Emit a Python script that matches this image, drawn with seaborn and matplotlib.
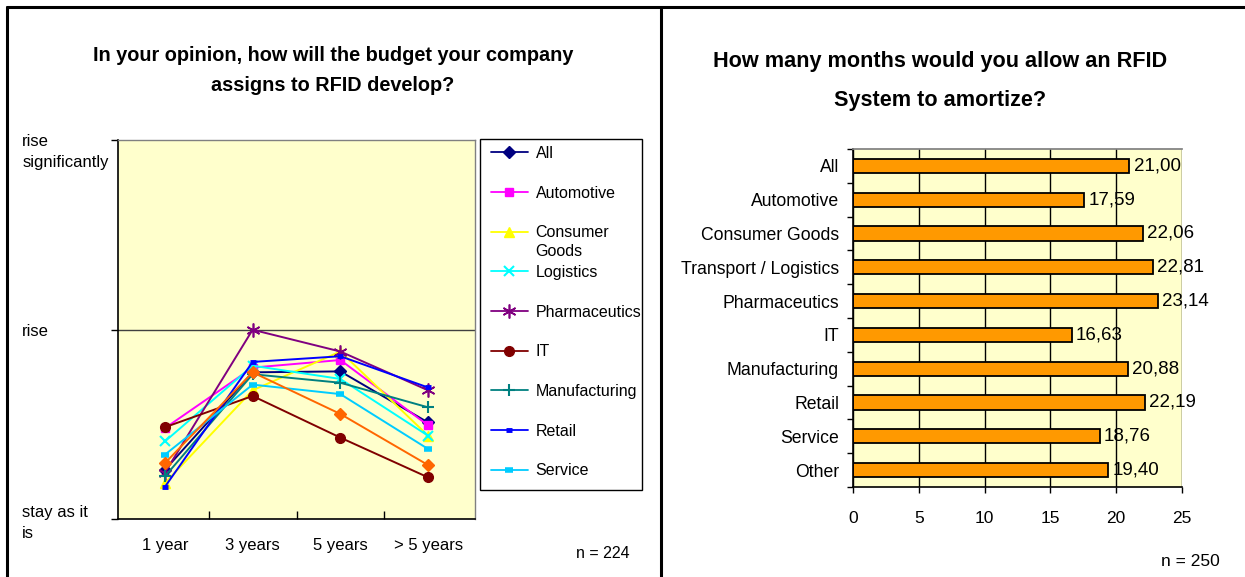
import matplotlib
matplotlib.use("Agg")
import matplotlib.pyplot as plt
import matplotlib.transforms as mtransforms
import seaborn as sns
import pandas as pd
from matplotlib.lines import Line2D
from matplotlib.patches import Rectangle

# ---- data: budget development (left chart) ----
periods = ["1 year", "3 years", "5 years", "> 5 years"]
level_labels = ["stay as it\nis", "rise", "rise\nsignificantly"]

budget_all = [0.26, 0.775, 0.78, 0.51]
budget_automotive = [0.48, 0.80, 0.84, 0.495]
budget_consumer = [0.19, 0.68, 0.885, 0.44]
budget_logistics = [0.41, 0.81, 0.74, 0.44]
budget_pharma = [0.245, 1.00, 0.885, 0.68]
budget_it = [0.485, 0.65, 0.43, 0.22]
budget_manufacturing = [0.225, 0.765, 0.72, 0.59]
budget_retail = [0.17, 0.83, 0.86, 0.695]
budget_service = [0.34, 0.71, 0.66, 0.37]
budget_other = [0.295, 0.775, 0.555, 0.285]

# ---- data: amortization months (right chart) ----
sectors = ["All", "Automotive", "Consumer Goods", "Transport / Logistics",
           "Pharmaceutics", "IT", "Manufacturing", "Retail", "Service", "Other"]
months = [21.00, 17.59, 22.06, 22.81, 23.14, 16.63, 20.88, 22.19, 18.76, 19.40]

W, H = 1245, 577
sns.set_theme(style="white")
plt.rcParams["font.family"] = ["Liberation Sans", "DejaVu Sans"]
plt.rcParams["text.color"] = "black"
plt.rcParams["xtick.labelcolor"] = "black"
plt.rcParams["ytick.labelcolor"] = "black"
fig = plt.figure(figsize=(W / 100, H / 100), dpi=100)


def fx(px):
    return px / W


def fy(py):
    return 1 - py / H


# panel borders
lw_frame = 2.2
fig.add_artist(Line2D([fx(7), 1], [fy(6.5), fy(6.5)], color="black", lw=lw_frame))
fig.add_artist(Line2D([fx(7), fx(7)], [fy(6.5), 0], color="black", lw=lw_frame))
fig.add_artist(Line2D([fx(661), fx(661)], [fy(6.5), 0], color="black", lw=lw_frame))

# ---------------- left chart ----------------
ax1 = fig.add_axes([fx(118), fy(519), fx(475 - 118), (519 - 140.5) / H])
ax1.set_facecolor("#FFFFCC")

series = [
    ("All", budget_all, "#000080", "D", 6, 1.0),
    ("Automotive", budget_automotive, "#FF00FF", "s", 6, 1.0),
    ("Consumer Goods", budget_consumer, "#FFFF00", "^", 7, 1.0),
    ("Logistics", budget_logistics, "#00FFFF", "x", 7, 1.5),
    ("Pharmaceutics", budget_pharma, "#800080", (6, 2, 0), 10, 1.2),
    ("IT", budget_it, "#800000", "o", 7, 1.0),
    ("Manufacturing", budget_manufacturing, "#008080", "+", 9, 1.5),
    ("Retail", budget_retail, "#0000FF", "_", 5, 3.5),
    ("Service", budget_service, "#00CCFF", "_", 6, 4.0),
    ("Other", budget_other, "#FF6600", "D", 6, 1.0),
]

handles = []
for name, vals, col, mk, ms, mew in series:
    sns.lineplot(x=periods, y=vals, ax=ax1, color=col, marker=mk, markersize=ms,
                 markeredgewidth=mew, markeredgecolor=col, markerfacecolor=col,
                 linewidth=1.4, sort=False)
    if name != "Other":
        handles.append(Line2D([], [], color=col, marker=mk, markersize=ms,
                              markeredgewidth=mew, markeredgecolor=col,
                              markerfacecolor=col, linewidth=1.3, label=name))

ax1.set_xlim(-0.535, 3.535)
ax1.set_ylim(0, 2)
ax1.axhline(1, color="#404040", lw=1.0, zorder=0)
ax1.set_yticks([0, 1, 2])
ax1.set_yticklabels(level_labels, fontsize=12, ha="left", linespacing=1.5)
ax1.tick_params(axis="y", direction="out", length=5, width=1, color="black", pad=64,
                left=True)
ax1.set_xticks([0, 1, 2, 3])
ax1.set_xticklabels(periods, fontsize=12)
ax1.set_xticks([0.5, 1.5, 2.5], minor=True)
ax1.tick_params(axis="x", which="major", length=0, pad=13.5)
ax1.tick_params(axis="x", which="minor", direction="in", length=6, width=1,
                color="black", bottom=True)
for s in ["left", "bottom"]:
    ax1.spines[s].set_color("black")
    ax1.spines[s].set_linewidth(1.2)
for s in ["top", "right"]:
    ax1.spines[s].set_color("#808080")
    ax1.spines[s].set_linewidth(1.0)
ax1.set_xlabel("")
ax1.set_ylabel("")
# nudge the top label down a little, as in the original
top_lbl = ax1.get_yticklabels()[2]
top_lbl.set_transform(top_lbl.get_transform()
                      + mtransforms.ScaledTranslation(0, -7 / 100, fig.dpi_scale_trans))

fig.text(fx(333), fy(70.5), "In your opinion, how will the budget your company\nassigns to RFID develop?",
         ha="center", va="center", fontsize=14.3, fontweight="bold", linespacing=1.75)
fig.text(fx(630), fy(553), "n = 224", ha="right", va="center", fontsize=11.5)

# legend
fig.add_artist(Rectangle((fx(480), fy(490)), fx(642 - 480), (490 - 139) / H,
                         transform=fig.transFigure, fill=True, facecolor="white",
                         edgecolor="black", lw=1.0, zorder=1))
leg = fig.legend(handles=handles, loc="upper left", bbox_to_anchor=(fx(491), fy(146)),
                 frameon=False, fontsize=11.5, borderpad=0, borderaxespad=0,
                 handlelength=2.3, handletextpad=0.5, labelspacing=1.545)
leg.set_zorder(2)
texts = leg.get_texts()
texts[2].set_text("Consumer")

fig.canvas.draw()
bb = texts[2].get_window_extent()
fig.text(bb.x0 / W, (bb.y0 - 19) / H, "Goods", ha="left", va="bottom", fontsize=11.5,
         zorder=3)

# ---------------- right chart ----------------
ax2 = fig.add_axes([fx(853), fy(487), fx(1182 - 853), (487 - 149) / H])
ax2.set_facecolor("#FFFFCC")
df = pd.DataFrame({"sector": sectors, "months": months})
sns.barplot(data=df, x="months", y="sector", orient="h", color="#FF9900",
            saturation=1, edgecolor="black", linewidth=1.3, width=0.42, ax=ax2)
ax2.set_xlim(0, 25)
ax2.set_ylim(9.5, -0.5)
ax2.set_xticks([0, 5, 10, 15, 20, 25])
ax2.xaxis.grid(True, color="black", lw=1.0)
ax2.set_axisbelow(True)
ax2.tick_params(axis="x", direction="out", length=4, width=1, color="black",
                bottom=True, labelsize=12.5, pad=13)
ax2.tick_params(axis="y", which="major", length=0, labelsize=12.7, pad=10)
ax2.set_yticks([i + 0.5 for i in range(-1, 10)], minor=True)
ax2.tick_params(axis="y", which="minor", direction="out", length=4, width=1,
                color="black", left=True)
for s in ["left", "bottom"]:
    ax2.spines[s].set_color("black")
    ax2.spines[s].set_linewidth(1.2)
ax2.spines["top"].set_color("#808080")
ax2.spines["right"].set_visible(False)
ax2.set_xlabel("")
ax2.set_ylabel("")
ax2.bar_label(ax2.containers[0], labels=[f"{v:.2f}".replace(".", ",") for v in months],
              padding=3, fontsize=13.5)

fig.text(fx(940), fy(81), "How many months would you allow an RFID\nSystem to amortize?",
         ha="center", va="center", fontsize=15.6, fontweight="bold", linespacing=2.15)
fig.text(fx(1220), fy(562), "n = 250", ha="right", va="center", fontsize=12.5)

fig.savefig("out.png", dpi=100, facecolor="white")
